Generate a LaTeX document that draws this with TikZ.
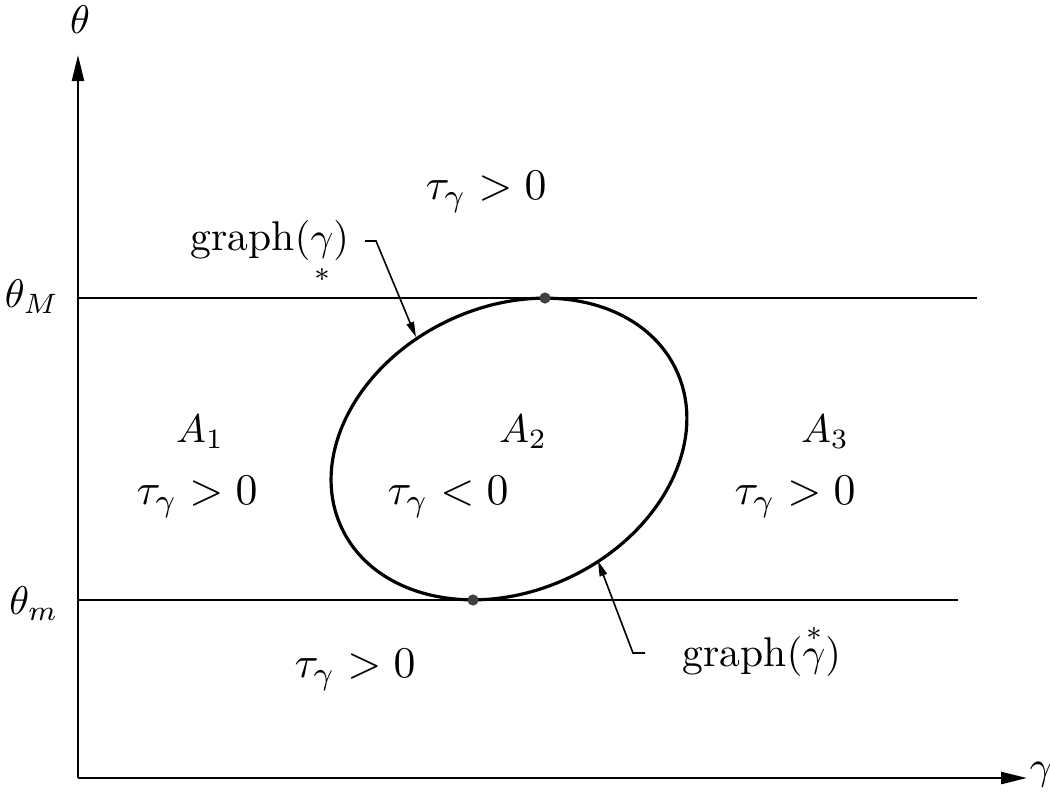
\documentclass[tikz,border=0pt]{standalone}
\usepackage{amsmath}
\usetikzlibrary{arrows.meta}
\begin{document}
\begin{tikzpicture}[x=0.25pt,y=-0.25pt,
  axis/.style={line width=0.6pt,-{Triangle[length=6.5pt,width=3pt]}},
  level/.style={line width=0.55pt},
  curve/.style={line width=0.8pt},
  leader/.style={line width=0.4pt,-{Triangle[length=3.8pt,width=1.9pt]}},
  lbl/.style={inner sep=0pt,font=\fontsize{10.4}{12}\selectfont},
  rel/.style={inner sep=0pt,font=\fontsize{11.2}{13}\selectfont},
  dotm/.style={circle,fill=black!75,inner sep=0pt,minimum size=2.8pt}]
\useasboundingbox (0,0) rectangle (1050,794);
% axes
\coordinate (O) at (78,778);
\coordinate (ytip) at (78,55);
\coordinate (xtip) at (1027,778);
\draw[axis] (O) -- (ytip);
\draw[axis] (O) -- (xtip);
\node[lbl] (th) at (80,20) {$\theta$};
\node[lbl,anchor=west] (ga) at (1029,775) {$\gamma$};
% level lines
\coordinate (M0) at (78,298); \coordinate (M1) at (977,298);
\coordinate (m0) at (78,600); \coordinate (m1) at (958,600);
\draw[level] (M0) -- (M1);
\draw[level] (m0) -- (m1);
\node[lbl] (thM) at (32,297) {$\theta_M$};
\node[lbl] (thm) at (34,604) {$\theta_m$};
% ellipse
\coordinate (c) at (509,449);
\draw[curve,rotate around={25.4:(c)}] (c) ellipse [x radius=46.25pt, y radius=35.5pt];
\node[dotm] (dtop) at (545,298) {};
\node[dotm] (dbot) at (473,600) {};
% labels
\node[rel] (t1) at (486,192) {$\tau_\gamma>0$};
\node[lbl] (A1) at (200,432) {$A_1$};
\node[lbl] (A2) at (523,432) {$A_2$};
\node[lbl] (A3) at (825,432) {$A_3$};
\node[rel] (t2) at (197,497) {$\tau_\gamma>0$};
\node[rel] (t3) at (448,497) {$\tau_\gamma<0$};
\node[rel] (t4) at (795,497) {$\tau_\gamma>0$};
\node[rel] (t5) at (355,670) {$\tau_\gamma>0$};
\node[lbl,anchor=base west] (g1) at (190,250) {graph$(\underset{*}{\gamma})$};
\node[lbl,anchor=base west] (g2) at (682,666) {graph$(\overset{*}{\gamma})$};
% leaders
\coordinate (a1) at (365,241); \coordinate (b1) at (376,241); \coordinate (p1) at (416,337);
\coordinate (a2) at (645,653); \coordinate (b2) at (633,653); \coordinate (p2) at (598,561);
\draw[leader] (a1) -- (b1) -- (p1);
\draw[leader] (a2) -- (b2) -- (p2);
\end{tikzpicture}
\end{document}
